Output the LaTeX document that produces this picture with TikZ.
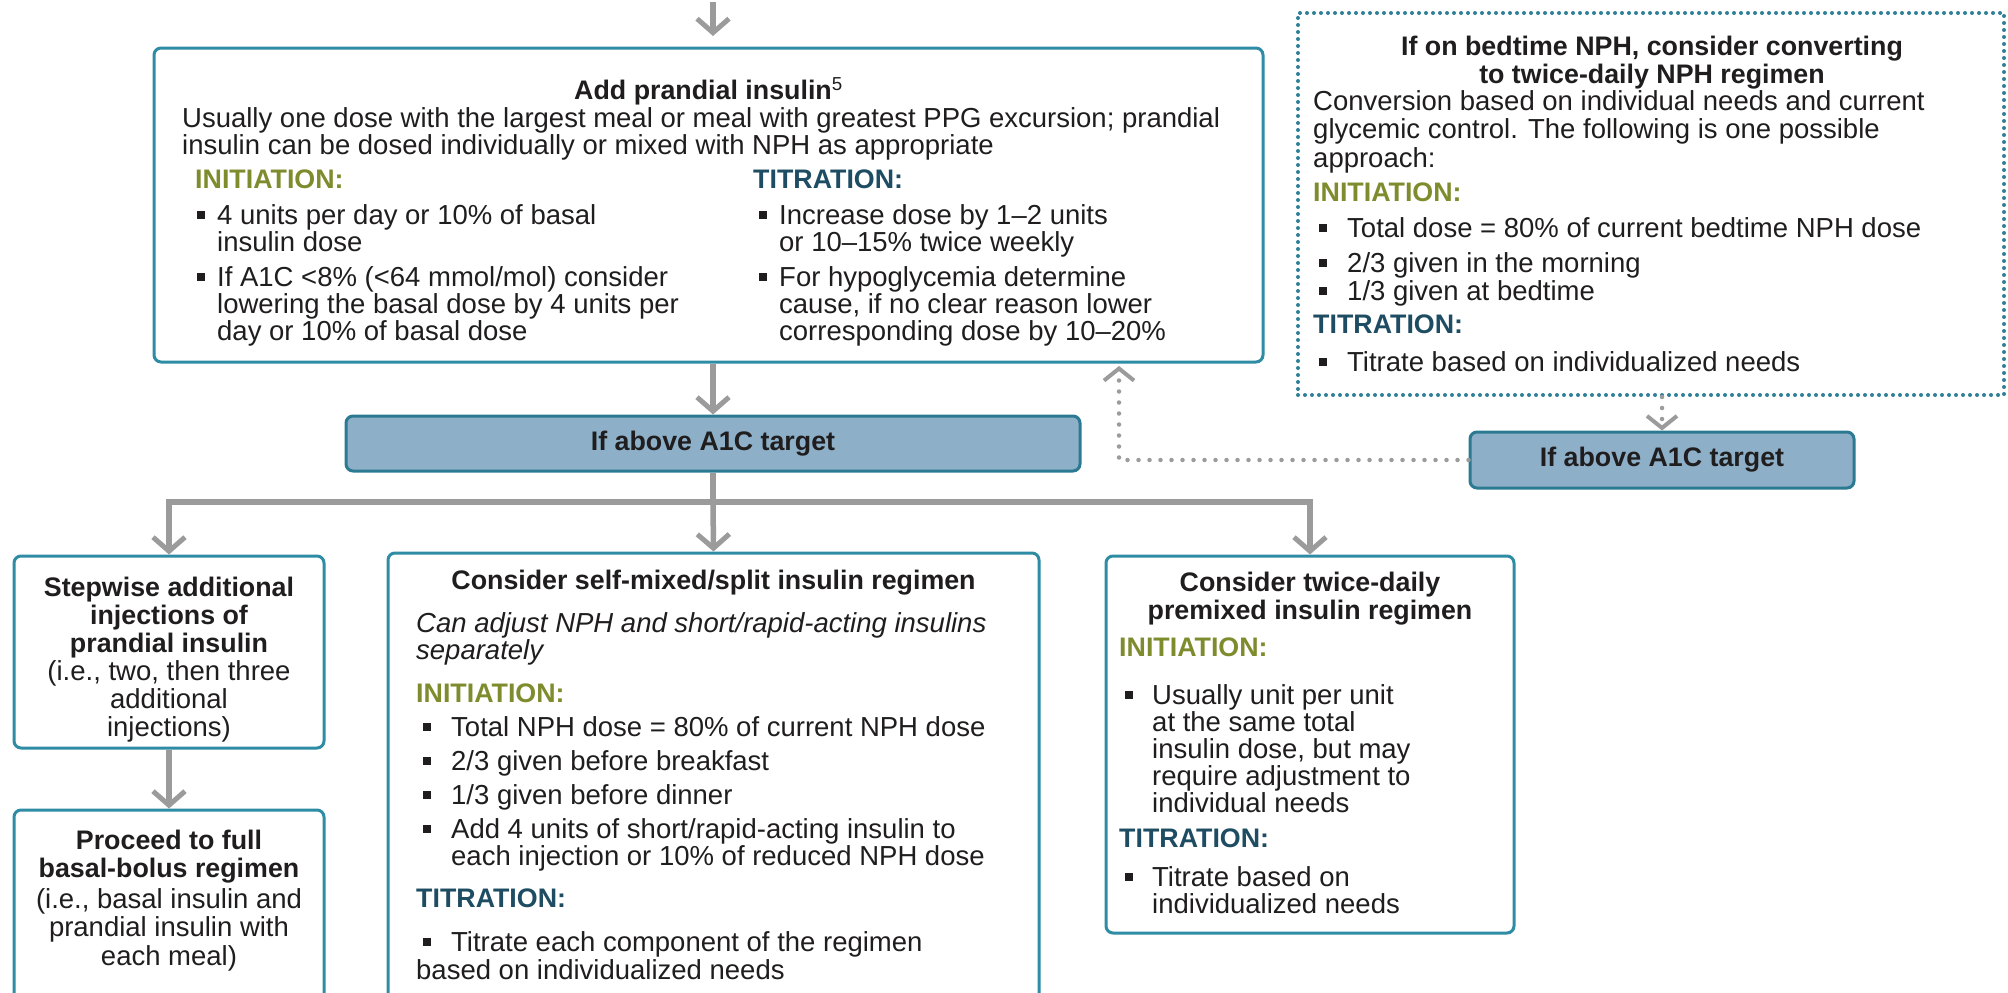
\documentclass[tikz,border=0pt]{standalone}
\usepackage{fontspec}
\setmainfont{Liberation Sans}
\usetikzlibrary{arrows.meta}
\definecolor{teal}{HTML}{2E8CA5}
\definecolor{dteal}{HTML}{2F8098}
\definecolor{iff}{HTML}{8DB0C8}
\definecolor{ifb}{HTML}{2C7A92}
\definecolor{gr}{HTML}{9B9B9B}
\definecolor{olive}{HTML}{7F8C2E}
\definecolor{titr}{HTML}{1E4D63}
\definecolor{tx}{HTML}{1F1D1E}
\newcommand\bul[1][20pt]{\makebox[#1][l]{\raisebox{5.5pt}{\rule{7.5pt}{7.5pt}}}}
\newcommand\ind[1][20pt]{\makebox[#1]{}}
\newcommand\st{\rule{0pt}{21pt}}
\newcommand\fr[1][27]{\fontsize{27.5}{#1}\selectfont\lineskiplimit=-50pt\relax}
\newcommand\fb[1][27]{\fontsize{26.8}{#1}\selectfont\bfseries\lineskiplimit=-50pt\relax}
\begin{document}
\begin{tikzpicture}[x=1pt,y=-1pt,
  box/.style={draw=teal, line width=3pt, rounded corners=7pt, fill=white, inner sep=0pt},
  dbox/.style={draw=dteal, line width=4pt, dash pattern=on 0pt off 7pt, line cap=round, inner sep=0pt},
  ifbox/.style={draw=ifb, fill=iff, line width=3pt, rounded corners=7pt, inner sep=0pt,
     font=\fb, text=tx},
  gline/.style={draw=gr, line width=5.5pt},
  garrow/.style={gline, -{Straight Barb[length=14pt,width=32pt,line width=5pt]}},
  darrow/.style={draw=gr, line width=4.5pt, dash pattern=on 0pt off 11pt, line cap=round,
     -{Straight Barb[length=12pt,width=30pt,line width=4pt]}},
  txt/.style={inner sep=0pt, anchor=north west, align=left, yshift=21pt, font=\fr, text=tx},
  ctr/.style={txt, anchor=north, align=center, font=\fb},
  ini/.style={txt, font=\fb, text=olive},
  tit/.style={txt, font=\fb, text=titr}]
\useasboundingbox (0,0) rectangle (2008,993);
\fill[white] (0,0) rectangle (2008,993);
\clip (0,0) rectangle (2008,993);

% boxes
\node[box, minimum width=1109pt, minimum height=314pt] (main) at (708.5,205) {};
\node[ifbox, minimum width=734pt, minimum height=55pt] (ifL) at (713,443.5) {If above A1C target};
\node[ifbox, minimum width=384pt, minimum height=56pt] (ifR) at (1662,460) {If above A1C target};
\node[box, minimum width=310pt, minimum height=192pt] (b5) at (169,652) {};
\node[box, minimum width=310pt, minimum height=210pt] (b7) at (169,915) {};
\node[box, minimum width=651pt, minimum height=467pt] (b8) at (713.5,786.5) {};
\node[box, minimum width=408pt, minimum height=377pt] (b9) at (1310,744.5) {};
\node[dbox, minimum width=706pt, minimum height=382pt] (b10) at (1651,204) {};

% main box text
\node[ctr] (mainT) at (708.5,98) {\st Add prandial insulin\textsuperscript{\mdseries 5}};
\node[txt] (mainP) at (182,127) {\st Usually one dose with the largest meal or meal with greatest PPG excursion; prandial\\
  insulin can be dosed individually or mixed with NPH as appropriate};
\node[ini] (mainI) at (195,188) {\st INITIATION:};
\node[tit] (mainR) at (753,188) {\st TITRATION:};
\node[txt] (mainIL) at (197,224) {\st\bul 4 units per day or 10\% of basal\\
  \ind insulin dose\\[8pt]
  \bul If A1C <8\% (<64 mmol/mol) consider\\
  \ind lowering the basal dose by 4 units per\\
  \ind day or 10\% of basal dose};
\node[txt] (mainRL) at (759,224) {\st\bul Increase dose by 1–2 units\\
  \ind or 10–15\% twice weekly\\[8pt]
  \bul For hypoglycemia determine\\
  \ind cause, if no clear reason lower\\
  \ind corresponding dose by 10–20\%};

% top right dotted box text
\node[ctr, font={\fb[28]}] (b10T) at (1652,55) {\st If on bedtime NPH, consider converting\\to twice-daily NPH regimen};
\node[txt, font={\fr[28.5]}] (b10P) at (1313,110) {\st Conversion based on individual needs and current\\
  glycemic control. The following is one possible\\approach:};
\node[ini] (b10I) at (1313,201) {\st INITIATION:};
\node[txt] (b10L) at (1319,237) {\st\bul[28pt]Total dose = 80\% of current bedtime NPH dose\\[8pt]
  \bul[28pt]2/3 given in the morning\\[1pt]
  \bul[28pt]1/3 given at bedtime};
\node[tit] (b10R) at (1313,333) {\st TITRATION:};
\node[txt] (b10RL) at (1319,371) {\st\bul[28pt]Titrate based on individualized needs};

% left boxes text
\node[ctr, font={\fb[28]}] (b5T) at (169,596) {\st Stepwise additional\\injections of\\prandial insulin};
\node[ctr, font={\fr[28]}] (b5P) at (169,680) {\st (i.e., two, then three\\additional\\injections)};
\node[ctr, font={\fb[28.5]}] (b7T) at (169,849) {\st Proceed to full\\basal-bolus regimen};
\node[ctr, font={\fr[28.5]}] (b7P) at (169,908) {\st (i.e., basal insulin and\\prandial insulin with\\each meal)};

% middle box text
\node[ctr] (b8T) at (713.5,589) {\st Consider self-mixed/split insulin regimen};
\node[txt, font={\fr\itshape}] (b8P) at (416,632) {\st Can adjust NPH and short/rapid-acting insulins\\separately};
\node[ini] (b8I) at (416,702) {\st INITIATION:};
\node[txt] (b8L) at (423,736) {\st\bul[28pt]Total NPH dose = 80\% of current NPH dose\\[7pt]
  \bul[28pt]2/3 given before breakfast\\[7pt]
  \bul[28pt]1/3 given before dinner\\[7pt]
  \bul[28pt]Add 4 units of short/rapid-acting insulin to\\
  \ind[28pt]each injection or 10\% of reduced NPH dose};
\node[tit] (b8R) at (416,907) {\st TITRATION:};
\node[txt] (b8RL) at (416,951) {\st\ind[7pt]\bul[28pt]Titrate each component of the regimen\\[1pt]
  based on individualized needs};

% right box text
\node[ctr, font={\fb[28]}] (b9T) at (1310,591) {\st Consider twice-daily\\premixed insulin regimen};
\node[ini] (b9I) at (1119,656) {\st INITIATION:};
\node[txt] (b9L) at (1125,704) {\st\bul[27pt]Usually unit per unit\\
  \ind[27pt]at the same total\\
  \ind[27pt]insulin dose, but may\\
  \ind[27pt]require adjustment to\\
  \ind[27pt]individual needs};
\node[tit] (b9R) at (1119,847) {\st TITRATION:};
\node[txt] (b9RL) at (1125,886) {\st\bul[27pt]Titrate based on\\
  \ind[27pt]individualized needs};

% connectors
\coordinate (topin) at (713,2);
\coordinate (topend) at (713,36);
\draw[garrow] (topin) -- (topend);
\draw[garrow] (main.south -| ifL.north) -- (ifL.north);
\coordinate (j) at (713,502);
\draw[gline] (ifL.south) -- (j);
\draw[garrow] (j) -| (b5.north);
\draw[garrow] (j) -| (b9.north);
\draw[garrow] (j) -- (b8.north);
\draw[garrow] (b5.south) -- (b7.north);
\coordinate (fb) at (1119,366);
\draw[darrow] (ifR.west) -| (fb);
\draw[darrow] (ifR.north |- b10.south) -- (ifR.north);
\end{tikzpicture}
\end{document}
